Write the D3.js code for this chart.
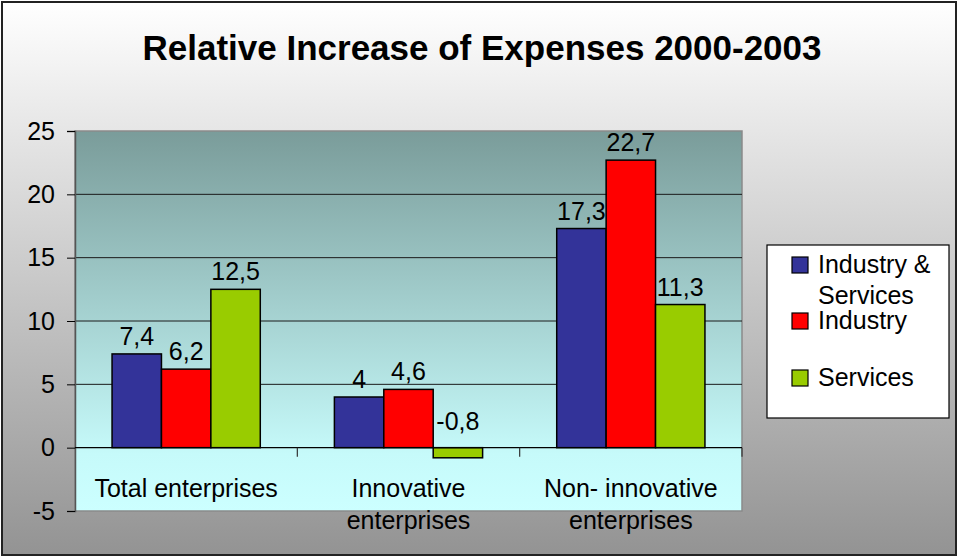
<!DOCTYPE html>
<html>
<head>
<meta charset="utf-8">
<script src="https://cdn.jsdelivr.net/npm/d3@7/dist/d3.min.js"></script>
<style>
  html, body { margin: 0; padding: 0; background: #fff; }
  svg { display: block; font-family: "Liberation Sans", Arial, sans-serif; }
</style>
</head>
<body>
<svg id="chart" width="960" height="559"></svg>
<script>
// Chart data
const title = "Relative Increase of Expenses 2000-2003";
const categories = [["Total enterprises"], ["Innovative", "enterprises"], ["Non- innovative", "enterprises"]];
const seriesNames = [["Industry &", "Services"], ["Industry"], ["Services"]];
const seriesColors = ["#333399", "#ff0000", "#99cc00"];
const industryAndServices = [7.4, 4, 17.3];
const industry = [6.2, 4.6, 22.7];
const services = [12.5, -0.8, 11.3];
const yTicks = [-5, 0, 5, 10, 15, 20, 25];

const seriesValues = [industryAndServices, industry, services];

const svg = d3.select("#chart");
const W = 960, H = 559;
const plot = { left: 75, right: 742, top: 131, bottom: 511 };

const defs = svg.append("defs");
const bgGrad = defs.append("linearGradient").attr("id", "bgGrad")
  .attr("x1", 0).attr("y1", 0).attr("x2", 0).attr("y2", 1);
bgGrad.append("stop").attr("offset", "0%").attr("stop-color", "#ffffff");
bgGrad.append("stop").attr("offset", "100%").attr("stop-color", "#939393");

const plotGrad = defs.append("linearGradient").attr("id", "plotGrad")
  .attr("x1", 0).attr("y1", 0).attr("x2", 0).attr("y2", 1);
plotGrad.append("stop").attr("offset", "0%").attr("stop-color", "#7a9c9a");
plotGrad.append("stop").attr("offset", "85%").attr("stop-color", "#c6fafa");
plotGrad.append("stop").attr("offset", "100%").attr("stop-color", "#ccffff");

// Chart area background and frame
svg.append("rect").attr("x", 2).attr("y", 2).attr("width", 954).attr("height", 553)
  .attr("fill", "url(#bgGrad)").attr("stroke", "#222").attr("stroke-width", 2);

// Title
svg.append("text").attr("x", 482).attr("y", 60).attr("text-anchor", "middle")
  .attr("font-size", 35).attr("font-weight", "bold").attr("fill", "#000").text(title);

// Scales
const x = d3.scaleBand().domain(d3.range(categories.length)).range([plot.left, plot.right]);
const xInner = d3.scaleBand().domain(d3.range(seriesValues.length))
  .range([0, x.bandwidth()]).paddingInner(0).paddingOuter(0.75);
const y = d3.scaleLinear().domain([-5, 25]).range([plot.bottom, plot.top]);

// Plot area
svg.append("rect").attr("x", plot.left).attr("y", plot.top)
  .attr("width", plot.right - plot.left).attr("height", plot.bottom - plot.top)
  .attr("fill", "url(#plotGrad)").attr("stroke", "#8a8a8a").attr("stroke-width", 1.5);

// Gridlines
svg.append("g").selectAll("line").data(yTicks.filter(t => t !== 0 && t !== 25 && t !== -5)).join("line")
  .attr("x1", plot.left).attr("x2", plot.right)
  .attr("y1", d => y(d)).attr("y2", d => y(d))
  .attr("stroke", "#1a1a1a").attr("stroke-width", 1);

// Y axis
const yAxis = d3.axisLeft(y).tickValues(yTicks).tickSize(8).tickPadding(12).tickFormat(d => String(d));
const yG = svg.append("g").attr("transform", `translate(${plot.left},0)`).call(yAxis);
yG.select(".domain").attr("stroke", "#555").attr("stroke-width", 1.5);
yG.selectAll(".tick line").attr("stroke", "#000");
yG.selectAll(".tick text").attr("font-size", 25).attr("fill", "#000")
  .attr("font-family", "'Liberation Sans', Arial, sans-serif");

// Bars
const groups = svg.append("g").selectAll("g").data(categories).join("g")
  .attr("transform", (d, i) => `translate(${x(i)},0)`);

groups.each(function (cat, ci) {
  const g = d3.select(this);
  seriesValues.forEach((vals, si) => {
    const v = vals[ci];
    g.append("rect")
      .attr("x", xInner(si)).attr("width", xInner.bandwidth())
      .attr("y", y(Math.max(v, 0))).attr("height", Math.abs(y(v) - y(0)))
      .attr("fill", seriesColors[si]).attr("stroke", "#000").attr("stroke-width", 1.5);
    const ly = v >= 0 ? y(v) - 9 : y(0) - 18;
    g.append("text")
      .attr("x", xInner(si) + xInner.bandwidth() / 2).attr("y", ly)
      .attr("text-anchor", "middle").attr("font-size", 25).attr("fill", "#000")
      .text(String(v).replace(".", ","));
  });
});

// Zero line with category ticks
svg.append("line").attr("x1", plot.left).attr("x2", plot.right)
  .attr("y1", y(0)).attr("y2", y(0)).attr("stroke", "#000").attr("stroke-width", 1.2);
const xAxis = d3.axisBottom(x).tickSize(0).tickFormat("");
const tickPositions = d3.range(categories.length + 1).map(i => plot.left + i * x.bandwidth());
svg.append("g").selectAll("line").data(tickPositions.slice(1)).join("line")
  .attr("x1", d => d).attr("x2", d => d).attr("y1", y(0)).attr("y2", y(0) + 9)
  .attr("stroke", "#333").attr("stroke-width", 1.2);

// Category labels
categories.forEach((lines, i) => {
  const t = svg.append("text").attr("text-anchor", "middle").attr("font-size", 25).attr("fill", "#000");
  lines.forEach((ln, k) => {
    t.append("tspan").attr("x", x(i) + x.bandwidth() / 2).attr("y", 497 + k * 32).text(ln);
  });
});

// Legend
const legend = svg.append("g");
legend.append("rect").attr("x", 767).attr("y", 245).attr("width", 182).attr("height", 173)
  .attr("fill", "#fff").attr("stroke", "#000").attr("stroke-width", 1.2);
const legendRows = [273, 329, 386];
seriesNames.forEach((lines, i) => {
  legend.append("rect").attr("x", 792).attr("y", legendRows[i] - 16).attr("width", 16).attr("height", 16)
    .attr("fill", seriesColors[i]).attr("stroke", "#000").attr("stroke-width", 1.2);
  const t = legend.append("text").attr("font-size", 25).attr("fill", "#000");
  lines.forEach((ln, k) => {
    t.append("tspan").attr("x", 818).attr("y", legendRows[i] + k * 31).text(ln);
  });
});
</script>
</body>
</html>
